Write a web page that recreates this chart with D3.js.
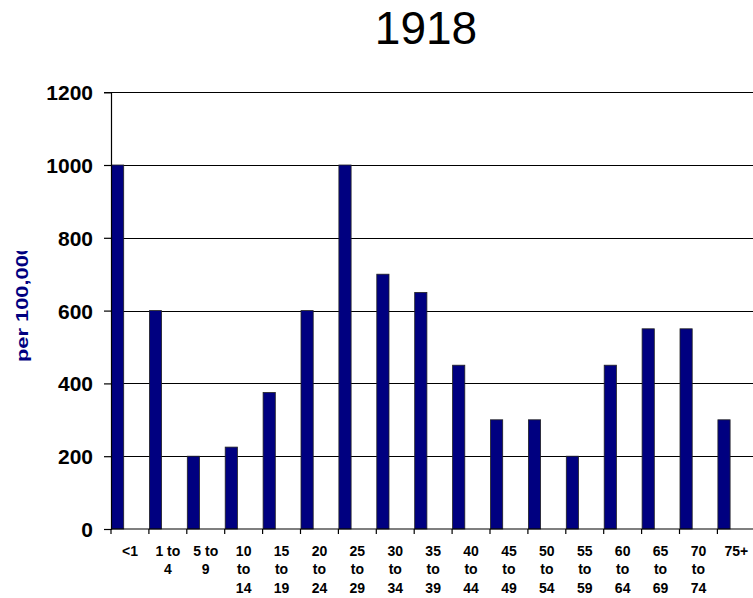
<!DOCTYPE html>
<html>
<head>
<meta charset="utf-8">
<script src="https://cdn.jsdelivr.net/npm/d3@7/dist/d3.min.js"></script>
<style>
  html, body { margin: 0; padding: 0; background: #fff; }
  svg { display: block; font-family: Arial, "Liberation Sans", sans-serif; }
</style>
</head>
<body>
<svg id="chart" width="753" height="598"></svg>
<script>
// Deaths per 100,000 by age group, 1918
const title = "1918";
const yLabel = "per 100,000";
const categories = [
  ["<1"], ["1 to", "4"], ["5 to", "9"], ["10", "to", "14"], ["15", "to", "19"],
  ["20", "to", "24"], ["25", "to", "29"], ["30", "to", "34"], ["35", "to", "39"],
  ["40", "to", "44"], ["45", "to", "49"], ["50", "to", "54"], ["55", "to", "59"],
  ["60", "to", "64"], ["65", "to", "69"], ["70", "to", "74"], ["75+"]
];
const values = [1000, 600, 200, 225, 375, 600, 1000, 700, 650, 450, 300, 300, 200, 450, 550, 550, 300];
const yTicks = [0, 200, 400, 600, 800, 1000, 1200];

const svg = d3.select("#chart");
const plotLeft = 111, plotRight = 755.3, plotTop = 92.2, plotBottom = 529;
const keys = categories.map(c => c.join(" "));

const x = d3.scaleBand().domain(keys).range([plotLeft, plotRight]).paddingInner(0).paddingOuter(0);
const y = d3.scaleLinear().domain([0, 1200]).range([plotBottom, plotTop]);

// Title
svg.append("text")
  .attr("x", 426).attr("y", 44)
  .attr("text-anchor", "middle")
  .attr("font-size", 46)
  .attr("fill", "#000")
  .text(title);

// Horizontal gridlines
svg.append("g")
  .selectAll("line")
  .data(yTicks.filter(d => d > 0))
  .join("line")
  .attr("x1", plotLeft).attr("x2", 753)
  .attr("y1", d => Math.round(y(d)) + 0.5).attr("y2", d => Math.round(y(d)) + 0.5)
  .attr("stroke", "#000").attr("stroke-width", 1.2);

// Bars
svg.append("g")
  .selectAll("rect")
  .data(values)
  .join("rect")
  .attr("x", (d, i) => x(keys[i]) + 0.5)
  .attr("y", d => y(d))
  .attr("width", 12.2)
  .attr("height", d => plotBottom - y(d))
  .attr("fill", "#000080")
  .attr("stroke", "#222")
  .attr("stroke-width", 0.8);

// Y axis
const yAxis = d3.axisLeft(y).tickValues(yTicks).tickSize(7).tickPadding(11).tickFormat(d3.format("d"));
const gy = svg.append("g").attr("transform", `translate(${plotLeft},0)`).call(yAxis);
gy.select(".domain").attr("stroke", "#000").attr("stroke-width", 1.2);
gy.selectAll(".tick line").attr("stroke", "#000").attr("stroke-width", 1.2);
gy.selectAll(".tick text")
  .attr("font-family", "Arial, 'Liberation Sans', sans-serif")
  .attr("font-size", 21).attr("font-weight", "bold").attr("fill", "#000")
  .attr("dy", "0.36em");

// X axis baseline and ticks at category boundaries
svg.append("line")
  .attr("x1", plotLeft).attr("x2", 753)
  .attr("y1", plotBottom).attr("y2", plotBottom)
  .attr("stroke", "#000").attr("stroke-width", 1.2);
svg.append("g")
  .selectAll("line")
  .data(keys)
  .join("line")
  .attr("x1", d => x(d)).attr("x2", d => x(d))
  .attr("y1", plotBottom).attr("y2", plotBottom + 5)
  .attr("stroke", "#000").attr("stroke-width", 1.2);

// Category labels, wrapped over several lines
const lab = svg.append("g")
  .selectAll("text")
  .data(categories)
  .join("text")
  .attr("text-anchor", "middle")
  .attr("font-size", 14).attr("font-weight", "bold").attr("fill", "#000")
  .attr("transform", (d, i) => `translate(${x(keys[i]) + x.bandwidth() / 2},556)`);
lab.selectAll("tspan")
  .data(d => d)
  .join("tspan")
  .attr("x", 0)
  .attr("y", (d, i) => i * 18.3)
  .text(d => d);

// Y axis title, clipped at the top
svg.append("clipPath").attr("id", "ylab-clip")
  .append("rect").attr("x", 0).attr("y", 251).attr("width", 60).attr("height", 200);
svg.append("g").attr("clip-path", "url(#ylab-clip)")
  .append("text")
  .attr("transform", "translate(27.5,362) rotate(-90)")
  .attr("text-anchor", "start")
  .attr("font-size", 16).attr("font-weight", "bold").attr("fill", "#000080")
  .attr("textLength", 119).attr("lengthAdjust", "spacingAndGlyphs")
  .text(yLabel);
</script>
</body>
</html>
